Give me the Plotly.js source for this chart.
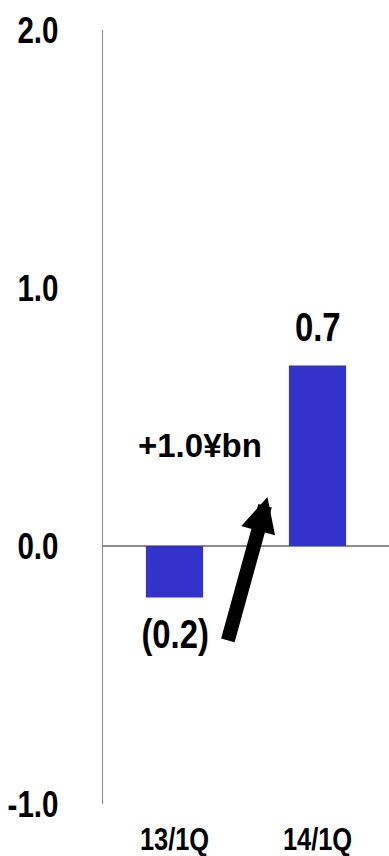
<!DOCTYPE html>
<html>
<head>
<meta charset="utf-8">
<script src="https://cdn.plot.ly/plotly-3.0.1.min.js"></script>
<style>html,body{margin:0;padding:0;background:#fff;}#chart{width:389px;height:856px;}</style>
</head>
<body>
<div id="chart"></div>
<script>
const categories = ['13/1Q', '14/1Q'];
const values = [-0.2, 0.7];
const valueLabels = ['(0.2)', '0.7'];
const yTickVals = [-1, 0, 1, 2];
const yTickText = ['-1.0', '0.0', '1.0', '2.0'];
const changeLabel = '+1.0¥bn';

const FONT = '"Liberation Sans", Arial, sans-serif';
const NARROW_FACTOR = 0.82;

const trace = {
  type: 'bar',
  x: categories,
  y: values,
  width: 0.4,
  marker: {color: '#3333CC', line: {width: 0}},
  hoverinfo: 'none'
};

const annotations = categories.map((c, i) => ({
  x: c, y: values[i],
  text: '<b>' + valueLabels[i] + '</b>',
  showarrow: false,
  xanchor: 'center', yanchor: 'middle',
  yshift: values[i] >= 0 ? 38 : -36,
  font: {family: FONT, size: 40, color: '#000'}
}));

annotations.push({
  x: 0.18, y: 0.39, xref: 'x', yref: 'y',
  text: '<b>' + changeLabel + '</b>',
  showarrow: false,
  xanchor: 'center', yanchor: 'middle',
  font: {family: FONT, size: 33, color: '#000'}
});

annotations.push({
  x: 0.65, y: 0.19, xref: 'x', yref: 'y',
  text: '',
  showarrow: true,
  arrowhead: 2,
  arrowsize: 0.5,
  arrowwidth: 14,
  arrowcolor: '#000',
  ax: -40, ay: 145,
  standoff: 0
});

const layout = {
  width: 389, height: 856,
  margin: {l: 103, r: 0, t: 30, b: 52},
  paper_bgcolor: '#fff', plot_bgcolor: '#fff',
  showlegend: false,
  xaxis: {
    type: 'category',
    range: [-0.5, 1.5],
    showline: false, showgrid: false, zeroline: false,
    ticks: '',
    ticklabelstandoff: 14,
    tickfont: {family: FONT, size: 31, color: '#000', weight: 'bold'}
  },
  yaxis: {
    range: [-1, 2],
    tickvals: yTickVals,
    ticktext: yTickText,
    showline: true, linecolor: '#8c8c8c', linewidth: 1.3,
    showgrid: false,
    zeroline: true, zerolinecolor: '#8c8c8c', zerolinewidth: 1.3,
    ticks: '',
    ticklabelstandoff: 36,
    tickfont: {family: FONT, size: 36, color: '#000', weight: 'bold'}
  },
  annotations: annotations
};

function condense(nodes) {
  nodes.forEach(t => {
    const L = t.getComputedTextLength();
    if (L > 0) {
      t.setAttribute('textLength', (L * NARROW_FACTOR).toFixed(2));
      t.setAttribute('lengthAdjust', 'spacingAndGlyphs');
    }
  });
}

Plotly.newPlot('chart', [trace], layout, {displayModeBar: false, staticPlot: true}).then(gd => {
  condense(gd.querySelectorAll('.ytick text, .xtick text'));
  const labelNodes = [];
  gd.querySelectorAll('.annotation').forEach(g => {
    const idx = +g.getAttribute('data-index');
    if (idx < categories.length) {
      const t = g.querySelector('text.annotation-text');
      if (t) labelNodes.push(t);
    }
  });
  condense(labelNodes);
});
</script>
</body>
</html>
